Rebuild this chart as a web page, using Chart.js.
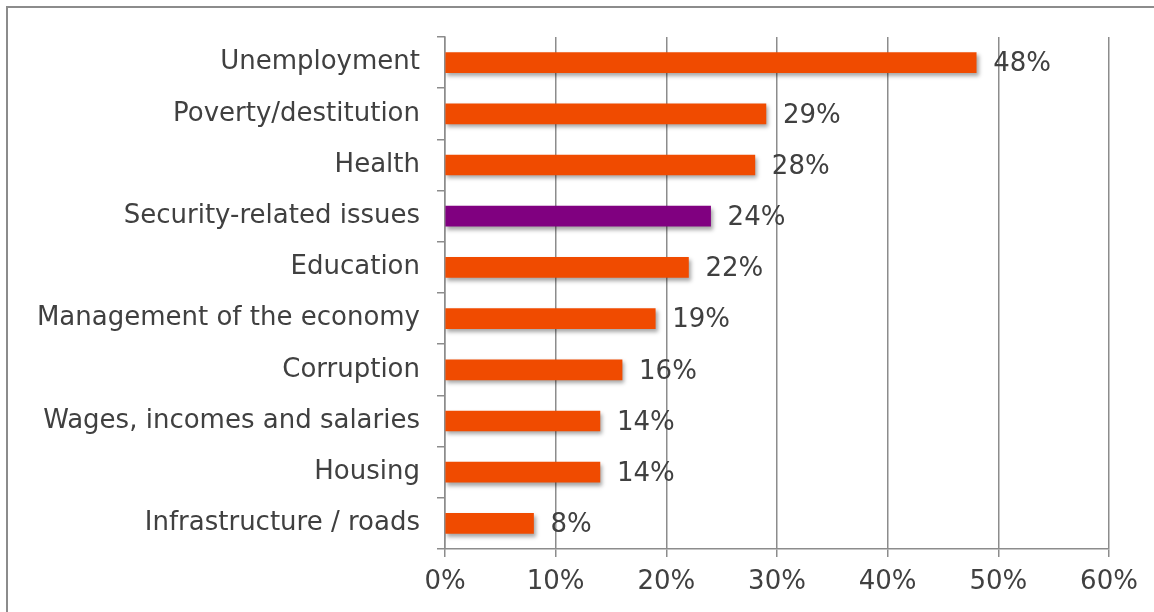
<!DOCTYPE html>
<html>
<head>
<meta charset="utf-8">
<title>Most important problems</title>
<script src="https://cdn.jsdelivr.net/npm/chart.js@4/dist/chart.umd.min.js"></script>
<style>
  html, body { margin: 0; padding: 0; background: #fff; overflow: hidden; }
  #frame {
    position: absolute; left: 6px; top: 6px; width: 1300px; height: 800px;
    border-left: 2px solid #8c8c8c; border-top: 2px solid #8c8c8c;
  }
  #chart { position: absolute; left: 0; top: 0; }
</style>
</head>
<body>
<div id="frame"></div>
<canvas id="chart" width="1154" height="612"></canvas>
<script>
// Problems named, share of respondents (%)
const categories = [
  'Unemployment',
  'Poverty/destitution',
  'Health',
  'Security-related issues',
  'Education',
  'Management of the economy',
  'Corruption',
  'Wages, incomes and salaries',
  'Housing',
  'Infrastructure / roads'
];
const values = [48, 29, 28, 24, 22, 19, 16, 14, 14, 8];
const xTicks = [0, 10, 20, 30, 40, 50, 60];
const highlighted = 'Security-related issues';

const ORANGE = '#F04B00';
const PURPLE = '#800080';
const GRID = '#8c8c8c';
const TEXT = '#404040';
const FONT = 'DejaVu Sans';

// Soft drop shadow under the bars
const barShadow = {
  id: 'barShadow',
  beforeDatasetsDraw(chart) {
    const ctx = chart.ctx;
    ctx.save();
    ctx.shadowColor = 'rgba(0,0,0,0.35)';
    ctx.shadowBlur = 4;
    ctx.shadowOffsetX = 2;
    ctx.shadowOffsetY = 3;
  },
  afterDatasetsDraw(chart) {
    chart.ctx.restore();
  }
};

// Percentage written just past the end of each bar
const valueLabels = {
  id: 'valueLabels',
  afterDraw(chart) {
    const ctx = chart.ctx;
    const meta = chart.getDatasetMeta(0);
    ctx.save();
    ctx.font = '26px "' + FONT + '"';
    ctx.fillStyle = TEXT;
    ctx.textAlign = 'left';
    ctx.textBaseline = 'middle';
    meta.data.forEach((bar, i) => {
      const v = chart.data.datasets[0].data[i];
      ctx.fillText(v + '%', bar.x + 17, bar.y + 2);
    });
    ctx.restore();
  }
};

new Chart(document.getElementById('chart'), {
  type: 'bar',
  data: {
    labels: categories,
    datasets: [{
      data: values,
      backgroundColor: categories.map(c => c === highlighted ? PURPLE : ORANGE),
      borderWidth: 0,
      barThickness: 20
    }]
  },
  plugins: [barShadow, valueLabels],
  options: {
    indexAxis: 'y',
    responsive: false,
    animation: false,
    devicePixelRatio: 1,
    layout: { padding: { left: 0, top: 37, right: 45, bottom: 0 } },
    plugins: {
      legend: { display: false },
      tooltip: { enabled: false }
    },
    scales: {
      x: {
        min: 0,
        max: 60,
        afterBuildTicks(scale) {
          scale.ticks = xTicks.map(v => ({ value: v }));
        },
        afterFit(scale) { scale.height = 63; },
        grid: {
          color: GRID,
          lineWidth: 1.5,
          tickLength: 8,
          tickColor: GRID
        },
        border: { color: GRID, width: 1.5 },
        ticks: {
          padding: 10,
          color: TEXT,
          font: { family: FONT, size: 26 },
          callback: v => v + '%'
        }
      },
      y: {
        afterFit(scale) { scale.width = 445; },
        grid: {
          drawOnChartArea: false,
          drawTicks: true,
          tickLength: 8,
          color: GRID,
          lineWidth: 1.5
        },
        border: { color: GRID, width: 1.5 },
        ticks: {
          padding: 17,
          color: TEXT,
          font: { family: FONT, size: 26 }
        }
      }
    }
  }
});
</script>
</body>
</html>
